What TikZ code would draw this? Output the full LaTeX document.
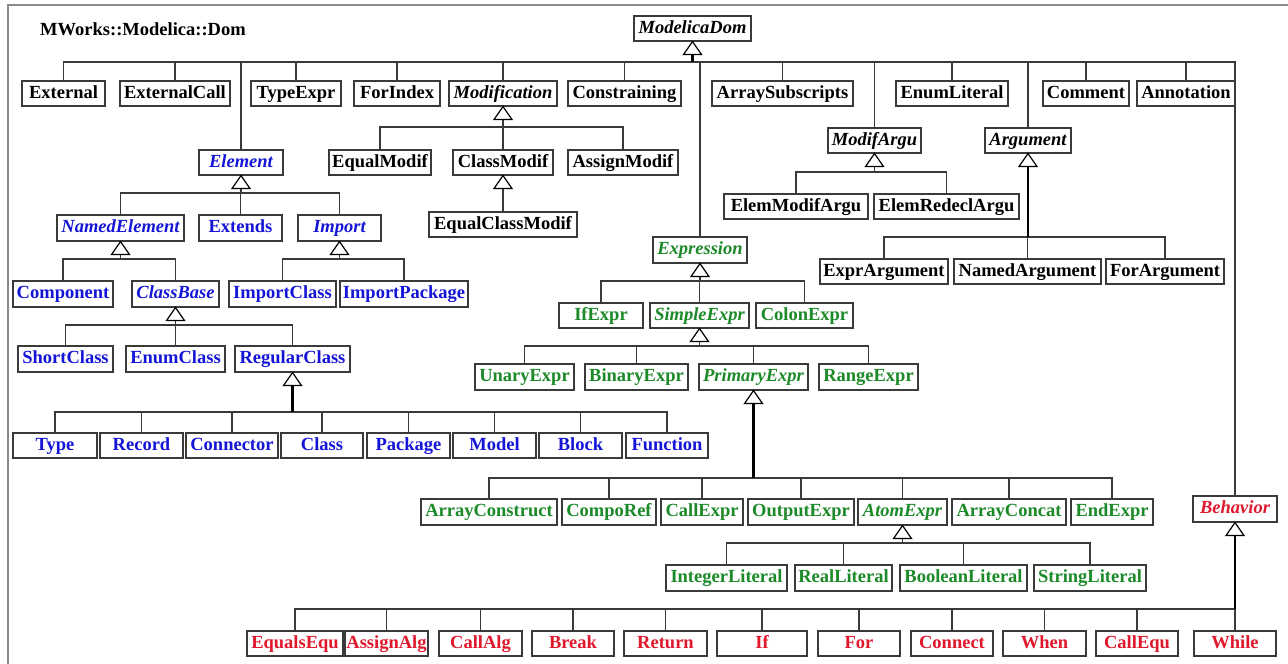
\documentclass[tikz,border=0pt]{standalone}
\usepackage{fontspec}
\setmainfont{Liberation Serif}
\definecolor{cblue}{HTML}{1515D8}
\definecolor{cgreen}{HTML}{1C8A28}
\definecolor{cred}{HTML}{E0182C}
\definecolor{cline}{HTML}{3A3A3A}
\definecolor{cframe}{HTML}{8A8A8A}
\newcommand\bx[7]{\node[box,#6,minimum width={#3-#2},minimum height={#5-#4}] (#1) at ({(#2+#3)/2},{(#4+#5)/2}) {#7};}
\newcommand\inh[4]{%
  \foreach \c in {#4} {\draw[conn] (\c.north) -- (\c.north |- 0,#2) -- (#1.south |- 0,#2);}
  \draw[#3] ([yshift=-13pt]#1.south) -- (#1.south |- 0,#2);
  \draw[tri] (#1.south) -- ++(-9,13) -- ++(18,0) -- cycle;}
\begin{document}
\begin{tikzpicture}[x=1pt,y=-1pt,
 box/.style={draw=cline,line width=1.1pt,fill=white,inner sep=0pt,text height=13pt,text depth=4pt,font=\fontsize{18.5}{21}\selectfont\bfseries},
 bk/.style={text=black}, bl/.style={text=cblue}, gr/.style={text=cgreen}, rd/.style={text=cred},
 it/.style={font=\fontsize{18.5}{21}\selectfont\bfseries\itshape},
 conn/.style={draw=cline,line width=1.2pt},
 stem/.style={draw=black,line width=2.2pt},
 tri/.style={draw=black,line width=1.2pt,fill=white,line join=miter}]
\useasboundingbox (0,0) rectangle (1288,664);
\fill[white] (0,0) rectangle (1288,664);
\draw[cframe,line width=1.5pt] (8,664) -- (8,5) -- (1288,5);
\node[anchor=west,inner sep=0pt,font=\fontsize{18.5}{21}\selectfont\bfseries] (title) at (40,29) {MWorks::Modelica::Dom};
% top
\bx{ModelicaDom}{634}{751}{16}{41}{bk,it}{ModelicaDom}
% row 1
\bx{External}{22}{105}{81}{106}{bk}{External}
\bx{ExternalCall}{120}{230}{81}{106}{bk}{ExternalCall}
\bx{TypeExpr}{251}{341}{81}{106}{bk}{TypeExpr}
\bx{ForIndex}{354}{440}{81}{106}{bk}{ForIndex}
\bx{Modification}{449}{557}{81}{106}{bk,it}{Modification}
\bx{Constraining}{568}{681}{81}{106}{bk}{Constraining}
\bx{ArraySubscripts}{712}{853}{81}{106}{bk}{ArraySubscripts}
\bx{EnumLiteral}{896}{1008}{81}{106}{bk}{EnumLiteral}
\bx{Comment}{1043}{1129}{81}{106}{bk}{Comment}
\bx{Annotation}{1137}{1235}{81}{106}{bk}{Annotation}
% level 2
\bx{Element}{199}{283}{150}{175}{bl,it}{Element}
\bx{EqualModif}{329}{431}{150}{175}{bk}{EqualModif}
\bx{ClassModif}{453}{553}{150}{175}{bk}{ClassModif}
\bx{AssignModif}{568}{678}{150}{175}{bk}{AssignModif}
\bx{ModifArgu}{828}{921}{128}{153}{bk,it}{ModifArgu}
\bx{Argument}{985}{1071}{128}{153}{bk,it}{Argument}
\bx{EqualClassModif}{429}{577}{212}{237}{bk}{EqualClassModif}
\bx{ElemModifArgu}{724}{868}{194}{219}{bk}{ElemModifArgu}
\bx{ElemRedeclArgu}{874}{1019}{194}{219}{bk}{ElemRedeclArgu}
\bx{NamedElement}{57}{184}{215}{241}{bl,it}{NamedElement}
\bx{Extends}{199}{282}{215}{241}{bl}{Extends}
\bx{Import}{298}{381}{215}{241}{bl,it}{Import}
\bx{Expression}{653}{747}{237}{263}{gr,it}{Expression}
\bx{ExprArgument}{820}{948}{259}{284}{bk}{ExprArgument}
\bx{NamedArgument}{954}{1101}{259}{284}{bk}{NamedArgument}
\bx{ForArgument}{1106}{1224}{259}{284}{bk}{ForArgument}
\bx{Component}{13}{113}{281}{307}{bl}{Component}
\bx{ClassBase}{132}{219}{281}{307}{bl,it}{ClassBase}
\bx{ImportClass}{229}{336}{281}{307}{bl}{ImportClass}
\bx{ImportPackage}{340}{468}{281}{307}{bl}{ImportPackage}
\bx{IfExpr}{559}{643}{303}{328}{gr}{IfExpr}
\bx{SimpleExpr}{650}{749}{303}{328}{gr,it}{SimpleExpr}
\bx{ColonExpr}{756}{853}{303}{328}{gr}{ColonExpr}
\bx{ShortClass}{18}{113}{346}{372}{bl}{ShortClass}
\bx{EnumClass}{126}{225}{346}{372}{bl}{EnumClass}
\bx{RegularClass}{235}{350}{346}{372}{bl}{RegularClass}
\bx{UnaryExpr}{475}{574}{364}{390}{gr}{UnaryExpr}
\bx{BinaryExpr}{585}{688}{364}{390}{gr}{BinaryExpr}
\bx{PrimaryExpr}{699}{808}{364}{390}{gr,it}{PrimaryExpr}
\bx{RangeExpr}{819}{918}{364}{390}{gr}{RangeExpr}
\bx{Type}{13}{97}{433}{458}{bl}{Type}
\bx{Record}{100}{183}{433}{458}{bl}{Record}
\bx{Connector}{186}{278}{433}{458}{bl}{Connector}
\bx{Class}{281}{363}{433}{458}{bl}{Class}
\bx{Package}{367}{450}{433}{458}{bl}{Package}
\bx{Model}{453}{536}{433}{458}{bl}{Model}
\bx{Block}{539}{622}{433}{458}{bl}{Block}
\bx{Function}{626}{708}{433}{458}{bl}{Function}
\bx{Behavior}{1193}{1277}{496}{522}{rd,it}{Behavior}
\bx{ArrayConstruct}{421}{557}{499}{525}{gr}{ArrayConstruct}
\bx{CompoRef}{562}{656}{499}{525}{gr}{CompoRef}
\bx{CallExpr}{661}{743}{499}{525}{gr}{CallExpr}
\bx{OutputExpr}{748}{854}{499}{525}{gr}{OutputExpr}
\bx{AtomExpr}{858}{947}{499}{525}{gr,it}{AtomExpr}
\bx{ArrayConcat}{952}{1066}{499}{525}{gr}{ArrayConcat}
\bx{EndExpr}{1071}{1153}{499}{525}{gr}{EndExpr}
\bx{IntegerLiteral}{666}{787}{565}{591}{gr}{IntegerLiteral}
\bx{RealLiteral}{795}{892}{565}{591}{gr}{RealLiteral}
\bx{BooleanLiteral}{900}{1027}{565}{591}{gr}{BooleanLiteral}
\bx{StringLiteral}{1034}{1146}{565}{591}{gr}{StringLiteral}
\bx{EqualsEqu}{247}{343}{631}{656}{rd}{EqualsEqu}
\bx{AssignAlg}{345}{428}{631}{656}{rd}{AssignAlg}
\bx{CallAlg}{439}{522}{631}{656}{rd}{CallAlg}
\bx{Break}{532}{614}{631}{656}{rd}{Break}
\bx{Return}{624}{707}{631}{656}{rd}{Return}
\bx{If}{717}{807}{631}{656}{rd}{If}
\bx{For}{818}{900}{631}{656}{rd}{For}
\bx{Connect}{911}{993}{631}{656}{rd}{Connect}
\bx{When}{1003}{1086}{631}{656}{rd}{When}
\bx{CallEqu}{1096}{1178}{631}{656}{rd}{CallEqu}
\bx{While}{1194}{1276}{631}{656}{rd}{While}
% inheritance
\inh{ModelicaDom}{62}{stem}{External,ExternalCall,Element,TypeExpr,ForIndex,Modification,Constraining,Expression,ArraySubscripts,ModifArgu,EnumLiteral,Argument,Comment,Annotation,Behavior}
\inh{Modification}{127}{conn}{EqualModif,ClassModif,AssignModif}
\inh{ClassModif}{200}{conn}{EqualClassModif}
\inh{Element}{193}{conn}{NamedElement,Extends,Import}
\inh{NamedElement}{259}{conn}{Component,ClassBase}
\inh{Import}{259}{conn}{ImportClass,ImportPackage}
\inh{ClassBase}{325}{conn}{ShortClass,EnumClass,RegularClass}
\inh{RegularClass}{412}{stem}{Type,Record,Connector,Class,Package,Model,Block,Function}
\inh{ModifArgu}{172}{conn}{ElemModifArgu,ElemRedeclArgu}
\inh{Argument}{237}{stem}{ExprArgument,NamedArgument,ForArgument}
\inh{Expression}{281}{conn}{IfExpr,SimpleExpr,ColonExpr}
\inh{SimpleExpr}{346}{conn}{UnaryExpr,BinaryExpr,PrimaryExpr,RangeExpr}
\inh{PrimaryExpr}{478}{stem}{ArrayConstruct,CompoRef,CallExpr,OutputExpr,AtomExpr,ArrayConcat,EndExpr}
\inh{AtomExpr}{543}{conn}{IntegerLiteral,RealLiteral,BooleanLiteral,StringLiteral}
\inh{Behavior}{609}{stem}{EqualsEqu,AssignAlg,CallAlg,Break,Return,If,For,Connect,When,CallEqu,While}
\end{tikzpicture}
\end{document}
